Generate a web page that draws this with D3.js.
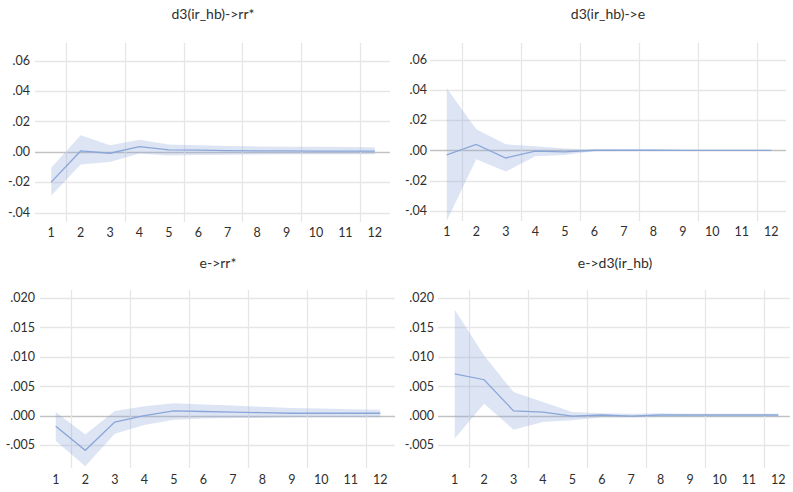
<!DOCTYPE html>
<html><head><meta charset="utf-8">
<script src="https://cdn.jsdelivr.net/npm/d3@7"></script>
<style>
html,body{margin:0;padding:0;background:#fff;}
svg{display:block;font-family:Lato,"Open Sans",sans-serif;}
</style></head>
<body><svg id="c" width="793" height="492"></svg>
<script>
// ---- data ----
const periods = [1,2,3,4,5,6,7,8,9,10,11,12];
const titles = ["d3(ir_hb)->rr*", "d3(ir_hb)->e", "e->rr*", "e->d3(ir_hb)"];
const yTicksTop = [-0.04,-0.02,0,0.02,0.04,0.06];
const yTickLabelsTop = ["-.04","-.02",".00",".02",".04",".06"];
const yTicksBottom = [-0.005,0,0.005,0.010,0.015,0.020];
const yTickLabelsBottom = ["-.005",".000",".005",".010",".015",".020"];

const p1Mid = [-0.020, 0.0005, -0.001, 0.0033, 0.0012, 0.001, 0.0007, 0.0006, 0.0005, 0.0004, 0.0004, 0.0004];
const p1Up  = [-0.0105, 0.0108, 0.0043, 0.0078, 0.0047, 0.0042, 0.0038, 0.0035, 0.0033, 0.0032, 0.0031, 0.003];
const p1Lo  = [-0.029, -0.0085, -0.0067, -0.0012, -0.0025, -0.0022, -0.002, -0.0018, -0.0017, -0.0017, -0.0016, -0.0016];

const p2Mid = [-0.003, 0.004, -0.005, -0.0005, -0.001, 0.0001, 0.0001, 0.0001, 0, 0, 0, 0];
const p2Up  = [0.041, 0.014, 0.004, 0.0028, 0.0012, 0.0006, 0.0005, 0.0004, 0.0003, 0.0003, 0.0003, 0.0003];
const p2Lo  = [-0.0465, -0.0058, -0.014, -0.0038, -0.003, -0.0006, -0.0004, -0.0004, -0.0003, -0.0003, -0.0003, -0.0003];

const p3Mid = [-0.0018, -0.0059, -0.0011, 0.0000, 0.0008, 0.0007, 0.0006, 0.0005, 0.0004, 0.0004, 0.0004, 0.0004];
const p3Up  = [0.0006, -0.0032, 0.0008, 0.0016, 0.0021, 0.0019, 0.0017, 0.0015, 0.0013, 0.0012, 0.0011, 0.0010];
const p3Lo  = [-0.0043, -0.0086, -0.0031, -0.0016, -0.0007, -0.0005, -0.0004, -0.0004, -0.0003, -0.0003, -0.0003, -0.0003];

const p4Mid = [0.0071, 0.0061, 0.0008, 0.0006, -0.0001, 0.0001, -0.0001, 0.0001, 0.0001, 0.0001, 0.0001, 0.0001];
const p4Up  = [0.018, 0.0102, 0.004, 0.0023, 0.0006, 0.0004, 0.0003, 0.0004, 0.0003, 0.0003, 0.0003, 0.0003];
const p4Lo  = [-0.0039, 0.0020, -0.0024, -0.0011, -0.0008, -0.0003, -0.0003, -0.0002, -0.0002, -0.0002, -0.0002, -0.0002];

// ---- layout (positions only) ----
const panels = [
  {title:titles[0], mid:p1Mid, up:p1Up, lo:p1Lo, ticks:yTicksTop, labels:yTickLabelsTop,
   x0:36.5, x1:389.5, yTopVal:0.06, yTopPx:60.5, yBotVal:-0.04, yBotPx:212.5, vTop:43, vBot:222,
   gx0:35, gx1:390, labRight:30, titleX:213, titleY:14, xLabY:233},
  {title:titles[1], mid:p2Mid, up:p2Up, lo:p2Lo, ticks:yTicksTop, labels:yTickLabelsTop,
   x0:432, x1:786, yTopVal:0.06, yTopPx:59.5, yBotVal:-0.04, yBotPx:211, vTop:43, vBot:221,
   gx0:430, gx1:786, labRight:427, titleX:608, titleY:14, xLabY:232},
  {title:titles[2], mid:p3Mid, up:p3Up, lo:p3Lo, ticks:yTicksBottom, labels:yTickLabelsBottom,
   x0:41, x1:395, yTopVal:0.02, yTopPx:298, yBotVal:-0.005, yBotPx:445, vTop:290, vBot:468,
   gx0:40, gx1:395, labRight:35, titleX:218, titleY:263, xLabY:480},
  {title:titles[3], mid:p4Mid, up:p4Up, lo:p4Lo, ticks:yTicksBottom, labels:yTickLabelsBottom,
   x0:440, x1:793, yTopVal:0.02, yTopPx:298, yBotVal:-0.005, yBotPx:445, vTop:290, vBot:468,
   gx0:438, gx1:790, labRight:434, titleX:615, titleY:263, xLabY:480}
];

const svg = d3.select("#c");
const textCol = "#2e2e2e", gridCol = "#e6e6e6", zeroCol = "#c2c2c2";
const lineCol = "#8aa6d8", bandCol = "rgba(143,170,220,0.30)";

panels.forEach(p => {
  const g = svg.append("g");
  const x = d3.scaleBand().domain(periods).range([p.x0, p.x1]);
  const y = d3.scaleLinear().domain([p.yBotVal, p.yTopVal]).range([p.yBotPx, p.yTopPx]);
  const cx = d => x(d) + x.bandwidth()/2;

  g.selectAll("line.h").data(p.ticks).join("line")
    .attr("x1", p.gx0).attr("x2", p.gx1)
    .attr("y1", d => Math.round(y(d))+0.5).attr("y2", d => Math.round(y(d))+0.5)
    .attr("stroke", d => d === 0 ? zeroCol : gridCol).attr("stroke-width", 1.3);

  const vb = periods.filter((d,i) => i % 2 === 0 && i < periods.length-1);
  g.selectAll("line.v").data(vb).join("line")
    .attr("x1", d => Math.round(x(d)+x.step())+0.5).attr("x2", d => Math.round(x(d)+x.step())+0.5)
    .attr("y1", p.vTop).attr("y2", p.vBot)
    .attr("stroke", gridCol).attr("stroke-width", 1.3);

  g.selectAll("text.yl").data(p.ticks).join("text")
    .attr("x", p.labRight).attr("y", d => y(d)).attr("dy", "0.35em")
    .attr("text-anchor", "end").attr("font-size", 12.5).attr("fill", textCol)
    .text((d,i) => p.labels[i]);

  g.selectAll("text.xl").data(periods).join("text")
    .attr("x", d => cx(d)).attr("y", p.xLabY).attr("dy", "0.35em")
    .attr("text-anchor", "middle").attr("font-size", 12.5).attr("fill", textCol)
    .text(d => d);

  const area = d3.area().x((d,i) => cx(periods[i])).y0((d,i) => y(p.lo[i])).y1((d,i) => y(p.up[i]));
  g.append("path").datum(periods).attr("d", area).attr("fill", bandCol).attr("stroke", "none");

  const line = d3.line().x((d,i) => cx(periods[i])).y((d,i) => y(p.mid[i]));
  g.append("path").datum(periods).attr("d", line).attr("fill", "none")
    .attr("stroke", lineCol).attr("stroke-width", 1.3);

  g.append("text").attr("x", p.titleX).attr("y", p.titleY).attr("dy", "0.35em")
    .attr("text-anchor", "middle").attr("font-size", 14).attr("fill", textCol)
    .text(p.title);
});
</script></body></html>
